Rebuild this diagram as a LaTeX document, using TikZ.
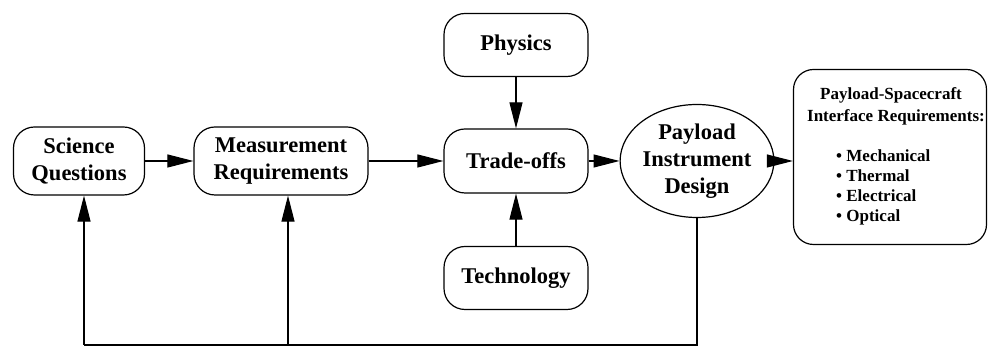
\documentclass[tikz,border=0pt]{standalone}
\usepackage{fontspec}
\setmainfont{Liberation Serif}
\usetikzlibrary{arrows.meta,shapes.geometric,calc}
\tikzset{
  box/.style={draw, line width=1.2pt, rounded corners=21pt, align=center,
    font=\fontsize{22.5}{27}\selectfont\bfseries, inner sep=0pt},
  oval/.style={draw, ellipse, line width=1.2pt, align=center,
    font=\fontsize{22.5}{27}\selectfont\bfseries, inner sep=0pt},
  arr/.style={line width=1.1pt, -{Triangle[length=26pt,width=13pt]}},
  conn/.style={line width=1.1pt},
  small/.style={font=\fontsize{17}{22}\selectfont\bfseries, inner sep=0pt}
}
\begin{document}
\begin{tikzpicture}[x=1pt,y=1pt]
\useasboundingbox (0,0) rectangle (989,347);
\node[box, minimum width=131pt, minimum height=68pt] (SQ) at (79,186) {Science\\Questions};
\node[box, minimum width=174pt, minimum height=68pt] (MR) at (281,186) {Measurement\\Requirements};
\node[box, minimum width=144pt, minimum height=64pt] (TO) at (516,186) {Trade-offs};
\node[box, minimum width=144pt, minimum height=63pt] (PH) at (516,302) {Physics};
\node[box, minimum width=144pt, minimum height=63pt] (TE) at (516,69) {Technology};
\node[oval, minimum width=131pt, minimum height=113pt] (PID) at (697,186) {Payload\\Instrument\\Design};
\node[draw, line width=1.2pt, rounded corners=20pt, minimum width=193pt, minimum height=175pt, inner sep=0pt] (IF) at (890,190) {};
\node[small, anchor=base] (h1) at (891,247) {Payload-Spacecraft};
\node[small, anchor=base] (h2) at (896,225) {Interface Requirements:};
\node[small, anchor=base west] (l1) at (836,185) {\textbullet\ Mechanical};
\node[small, anchor=base west] (l2) at (836,165) {\textbullet\ Thermal};
\node[small, anchor=base west] (l3) at (836,145) {\textbullet\ Electrical};
\node[small, anchor=base west] (l4) at (836,125) {\textbullet\ Optical};
\draw[arr] (SQ.east) -- (MR.west);
\draw[arr] (MR.east) -- (TO.west);
\draw[arr] (TO.east) -- (PID.west);
\draw[arr] (PID.east) -- (PID.east -| IF.west);
\draw[arr] (PH.south) -- (TO.north);
\draw[arr] (TE.north) -- (TO.south);
\coordinate (c1) at (84,2);
\coordinate (c2) at (288,2);
\coordinate (c3) at (697,2);
\draw[conn] (PID.south) -- (c3) -- (c1);
\draw[arr] (c1) -- (c1 |- SQ.south);
\draw[arr] (c2) -- (c2 |- MR.south);
\end{tikzpicture}
\end{document}
